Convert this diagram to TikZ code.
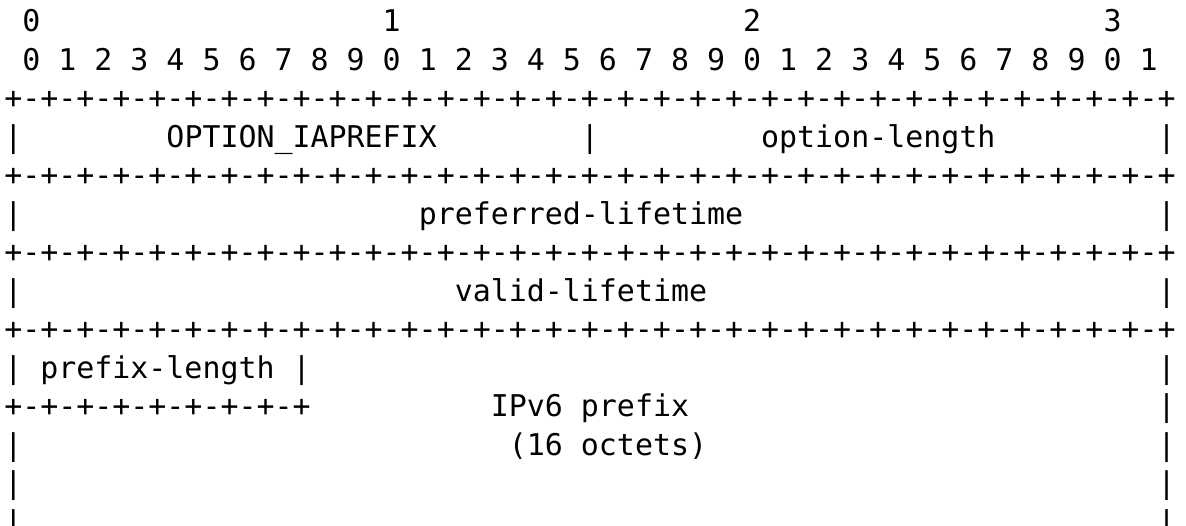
\documentclass[tikz,border=0pt]{standalone}
\usepackage{fontspec}
\setmonofont{DejaVu Sans Mono}
\tikzset{ch/.style={anchor=base west, inner sep=0pt, outer sep=0pt, text=black,
  font=\ttfamily\fontsize{14.966pt}{18pt}\selectfont}}
\newcommand{\seg}[4]{\node[ch] (#1) at ({4.3+18.02*#3},{31.7+38.5*(#2-1)}) {#4};}
\def\q{+-+-+-+-}
\begin{document}
\begin{tikzpicture}[x=0.5pt,y=-0.5pt]
\useasboundingbox (0,0) rectangle (1186,525);
% top scale
\seg{t0}{1}{1}{0}
\seg{t1}{1}{21}{1}
\seg{t2}{1}{41}{2}
\seg{t3}{1}{61}{3}
\foreach \i in {0,...,31}{
  \pgfmathtruncatemacro{\dg}{mod(\i,10)}
  \pgfmathtruncatemacro{\cl}{2*\i+1}
  \seg{b\i}{2}{\cl}{\dg}
}
% borders
\seg{r3}{3}{0}{\q\q\q\q\q\q\q\q+}
\seg{r5}{5}{0}{\q\q\q\q\q\q\q\q+}
\seg{r7}{7}{0}{\q\q\q\q\q\q\q\q+}
\seg{r9}{9}{0}{\q\q\q\q\q\q\q\q+}
\seg{r11}{11}{0}{\q\q+}
% row 4
\seg{v4a}{4}{0}{|}
\seg{opt}{4}{9}{OPTION\_IAPREFIX}
\seg{v4b}{4}{32}{|}
\seg{olen}{4}{42}{option-length}
\seg{v4c}{4}{64}{|}
% row 6
\seg{v6a}{6}{0}{|}
\seg{pref}{6}{23}{preferred-lifetime}
\seg{v6b}{6}{64}{|}
% row 8
\seg{v8a}{8}{0}{|}
\seg{valid}{8}{25}{valid-lifetime}
\seg{v8b}{8}{64}{|}
% row 10
\seg{v10a}{10}{0}{|}
\seg{plen}{10}{2}{prefix-length}
\seg{v10b}{10}{16}{|}
\seg{v10c}{10}{64}{|}
% row 11
\seg{ipv6}{11}{27}{IPv6 prefix}
\seg{v11}{11}{64}{|}
% row 12
\seg{v12a}{12}{0}{|}
\seg{oct}{12}{28}{(16 octets)}
\seg{v12b}{12}{64}{|}
% rows 13, 14
\seg{v13a}{13}{0}{|}
\seg{v13b}{13}{64}{|}
\seg{v14a}{14}{0}{|}
\seg{v14b}{14}{64}{|}
\end{tikzpicture}
\end{document}
